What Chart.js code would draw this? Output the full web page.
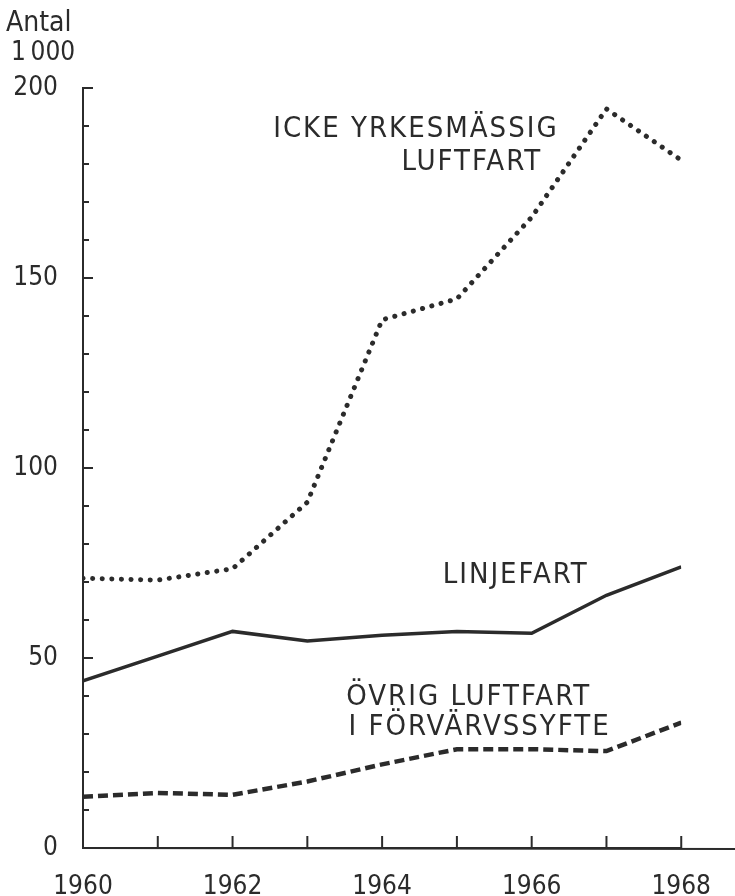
<!DOCTYPE html>
<html>
<head>
<meta charset="utf-8">
<script src="https://cdn.jsdelivr.net/npm/chart.js@4.4.0/dist/chart.umd.min.js"></script>
<style>
  html, body { margin: 0; padding: 0; background: #fff; }
  #wrap { width: 735px; height: 896px; }
</style>
</head>
<body>
<div id="wrap"><canvas id="flyg"></canvas></div>
<script>
// years on the x axis
const years = [1960, 1961, 1962, 1963, 1964, 1965, 1966, 1967, 1968];
// thousands of flights
const ickeYrkes = [71, 70.5, 73.5, 91, 139, 144.5, 166, 194.5, 181];
const linjefart = [44, 50.5, 57, 54.5, 56, 57, 56.5, 66.5, 74];
const ovrigFv = [13.5, 14.5, 14, 17.5, 22, 26, 26, 25.5, 33];
const yLabelTicks = [0, 50, 100, 150, 200];
const xLabelTicks = [1960, 1962, 1964, 1966, 1968];

// text labels placed in data coordinates
const notes = [
  { text: 'ICKE YRKESMÄSSIG', x: 1966.36, y: 189, align: 'right' },
  { text: 'LUFTFART', x: 1966.14, y: 180.3, align: 'right' },
  { text: 'LINJEFART', x: 1964.81, y: 71.8, align: 'left' },
  { text: 'ÖVRIG LUFTFART', x: 1963.52, y: 39.5, align: 'left' },
  { text: 'I FÖRVÄRVSSYFTE', x: 1963.55, y: 31.8, align: 'left' }
];

const ink = '#2b2b2b';
const fam = '"DejaVu Sans Condensed", "DejaVu Sans", sans-serif';

const toPoints = arr => arr.map((v, i) => ({ x: years[i], y: v }));

// draws inward ticks, extended x axis, texts
const paperPlugin = {
  id: 'paper',
  afterDraw(chart) {
    const ctx = chart.ctx;
    const xs = chart.scales.x, ys = chart.scales.y;
    const area = chart.chartArea;
    ctx.save();
    ctx.strokeStyle = ink;
    ctx.lineWidth = 2;
    // x axis continues to the right edge
    ctx.beginPath();
    ctx.moveTo(area.left, area.bottom);
    ctx.lineTo(chart.width, area.bottom + 1);
    ctx.stroke();
    // x ticks pointing up
    years.forEach(yr => {
      if (yr === 1960) return;
      const px = xs.getPixelForValue(yr);
      ctx.beginPath();
      ctx.moveTo(px, area.bottom);
      ctx.lineTo(px, area.bottom - 12);
      ctx.stroke();
    });
    // y ticks pointing right
    for (let v = 10; v <= 200; v += 10) {
      const py = ys.getPixelForValue(v);
      const len = (v % 50 === 0) ? 10 : 6;
      ctx.beginPath();
      ctx.moveTo(area.left, py);
      ctx.lineTo(area.left + len, py);
      ctx.stroke();
    }
    // text
    ctx.fillStyle = ink;
    ctx.textBaseline = 'middle';
    ctx.font = '29px ' + fam;
    ctx.letterSpacing = '2px';
    notes.forEach(n => {
      ctx.textAlign = n.align;
      ctx.fillText(n.text, xs.getPixelForValue(n.x), ys.getPixelForValue(n.y));
    });
    ctx.letterSpacing = '0px';
    ctx.textAlign = 'left';
    ctx.font = '28px ' + fam;
    ctx.fillText('Antal', 6, 24);
    ctx.font = '26px ' + fam;
    ctx.fillText('1\u2009000', 11, 53);
    ctx.restore();
  }
};

new Chart(document.getElementById('flyg'),
{
  type: 'line',
  data:
  {
    datasets:
    [
      {
        label: 'Icke yrkesmässig luftfart',
        data: toPoints(ickeYrkes),
        borderColor: ink,
        borderWidth: 5,
        borderDash: [0.1, 9.5],
        borderCapStyle: 'round',
        pointRadius: 0,
        tension: 0
      },
      {
        label: 'Linjefart',
        data: toPoints(linjefart),
        borderColor: ink,
        borderWidth: 3.5,
        pointRadius: 0,
        tension: 0
      },
      {
        label: 'Övrig luftfart i förvärvssyfte',
        data: toPoints(ovrigFv),
        borderColor: ink,
        borderWidth: 4.5,
        borderDash: [10, 5],
        pointRadius: 0,
        tension: 0
      }
    ]
  },
  options:
  {
    responsive: true,
    maintainAspectRatio: false,
    animation: false,
    layout: { padding: { top: 88, right: 45, left: 0, bottom: 0 } },
    plugins:
    {
      legend: { display: false },
      tooltip: { enabled: false }
    },
    scales:
    {
      x:
      {
        type: 'linear',
        min: 1960,
        max: 1968,
        afterFit: s => { s.height = 48; },
        afterBuildTicks: s => { s.ticks = xLabelTicks.map(v => ({ value: v })); },
        grid: { display: false, drawTicks: false },
        border: { display: true, color: ink, width: 2 },
        ticks:
        {
          padding: 24,
          color: ink,
          font: { family: fam, size: 26 },
          maxRotation: 0,
          callback: v => String(v)
        }
      },
      y:
      {
        min: 0,
        max: 200,
        afterFit: s => { s.width = 83; },
        afterBuildTicks: s => { s.ticks = yLabelTicks.map(v => ({ value: v })); },
        grid: { display: false, drawTicks: false },
        border: { display: true, color: ink, width: 2 },
        ticks:
        {
          padding: 25,
          color: ink,
          font: { family: fam, size: 26 },
          callback: v => String(v)
        }
      }
    }
  },
  plugins: [paperPlugin]
});
</script>
</body>
</html>
